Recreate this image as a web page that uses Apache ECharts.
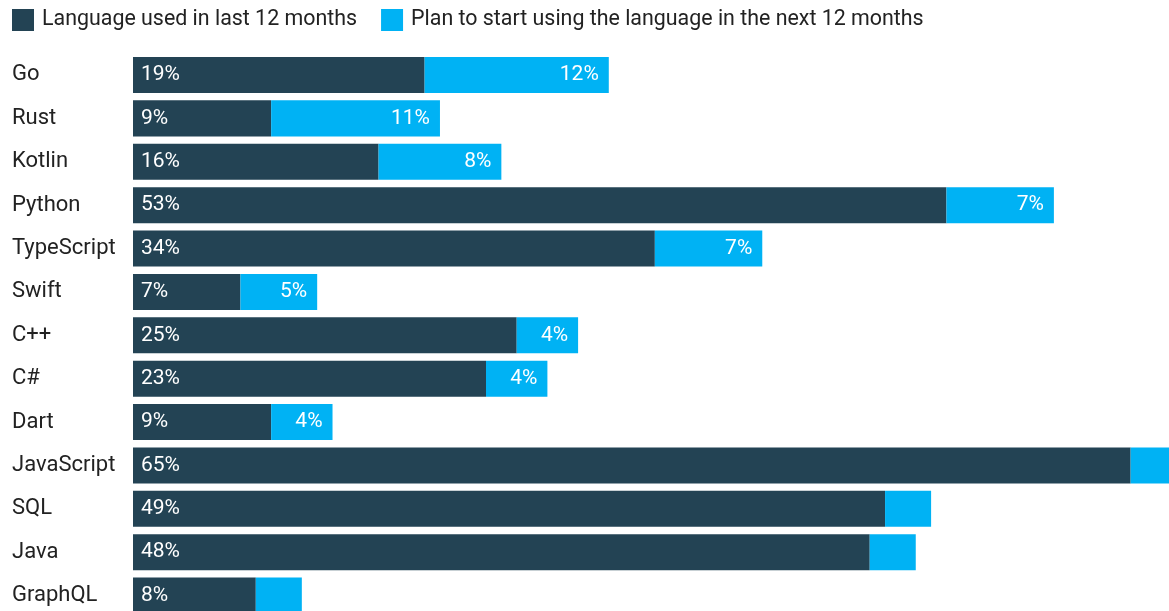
<!DOCTYPE html>
<html>
<head>
<meta charset="utf-8">
<script src="https://cdn.jsdelivr.net/npm/echarts@6/dist/echarts.min.js"></script>
<style>html,body{margin:0;padding:0;background:#fff;overflow:hidden}#c{width:1169px;height:618px}</style>
</head>
<body>
<div id="c"></div>
<script>
const categories = ['Go','Rust','Kotlin','Python','TypeScript','Swift','C++','C#','Dart','JavaScript','SQL','Java','GraphQL'];
const usedLast12 = [19,9,16,53,34,7,25,23,9,65,49,48,8];
const planNext12 = [12,11,8,7,7,5,4,4,4,3,3,3,3];
const seriesNames = ['Language used in last 12 months','Plan to start using the language in the next 12 months'];

const DARK = '#234354', LIGHT = '#00b2f4';
const chart = echarts.init(document.getElementById('c'), null, {renderer:'canvas'});
chart.setOption({
  animation: false,
  textStyle: {fontFamily: 'Roboto'},
  legend: {
    left: 12, top: 9, padding: 0, itemWidth: 22, itemHeight: 22, itemGap: 24,
    icon: 'rect',
    textStyle: {fontSize: 21.4, color: '#222', fontFamily: 'Roboto', padding: [2,0,0,3]},
    data: seriesNames
  },
  grid: {left: 133, top: 53.3, right: 0, bottom: 0.7, containLabel: false},
  xAxis: {type: 'value', min: 0, max: 67.5, show: false},
  yAxis: {
    type: 'category', data: categories, inverse: true,
    axisLine: {show: false}, axisTick: {show: false},
    axisLabel: {fontSize: 22, color: '#222', fontFamily: 'Roboto', align: 'left', margin: 121, padding: [3,0,0,0]}
  },
  series: [
    {
      name: seriesNames[0], type: 'bar', stack: 'a', data: usedLast12,
      barCategoryGap: '17%',
      itemStyle: {color: DARK},
      label: {show: true, position: 'insideLeft', distance: 8, color: '#fff', fontSize: 21, fontFamily: 'Roboto',
        padding: [3,0,0,0], formatter: p => p.value + '%'}
    },
    {
      name: seriesNames[1], type: 'bar', stack: 'a', data: planNext12,
      itemStyle: {color: LIGHT},
      label: {show: true, position: 'insideRight', distance: 10, color: '#fff', fontSize: 21, fontFamily: 'Roboto',
        padding: [3,0,0,0], formatter: p => p.value >= 4 ? p.value + '%' : ''}
    }
  ]
});
</script>
</body>
</html>
